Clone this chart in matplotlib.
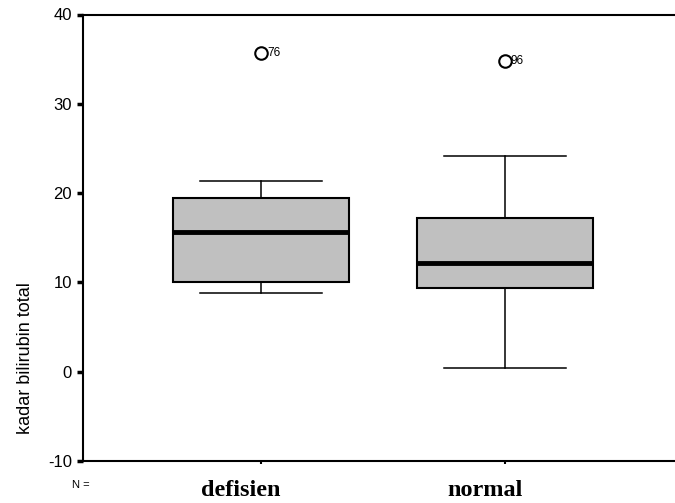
import matplotlib
matplotlib.use("Agg")
import matplotlib.pyplot as plt
from matplotlib.transforms import ScaledTranslation

# box summary values
groups = ["defisien", "normal"]
q1 = [10.08, 9.40]
med = [15.66, 12.17]
q3 = [19.45, 17.22]
whislo = [8.85, 0.45]
whishi = [21.35, 24.14]
outliers = [[35.7], [34.8]]
outlier_ids = [["76"], ["96"]]

yticks = [-10, 0, 10, 20, 30, 40]

fig = plt.figure(figsize=(6.75, 5.03), dpi=100)
ax = fig.add_axes([83 / 675, 42 / 503, 1 - 83 / 675, (461 - 14.5) / 503])

stats = []
for i, g in enumerate(groups):
    stats.append(dict(label=g, q1=q1[i], med=med[i], q3=q3[i],
                      whislo=whislo[i], whishi=whishi[i], fliers=outliers[i]))

ax.bxp(stats, positions=[1, 2], widths=0.72, capwidths=0.5,
       patch_artist=True,
       boxprops=dict(facecolor="#c0c0c0", edgecolor="black", linewidth=1.5),
       medianprops=dict(color="black", linewidth=3.5),
       whiskerprops=dict(color="black", linewidth=1.1),
       capprops=dict(color="black", linewidth=1.1),
       flierprops=dict(marker="o", markersize=9, markerfacecolor="none",
                       markeredgecolor="black", markeredgewidth=1.5))

# case numbers next to outliers
offs = [0.025, 0.02]
for i in range(len(groups)):
    for v, lab in zip(outliers[i], outlier_ids[i]):
        ax.text(i + 1 + offs[i], v, lab, fontsize=8.5, family="Liberation Sans",
                va="center", ha="left")

ax.set_xlim(0.272, 2.694)
ax.set_ylim(-10, 40)
ax.set_yticks(yticks)
ax.set_yticklabels([str(t) for t in yticks], family="Liberation Sans", fontsize=12)
ax.set_xticks([1, 2])
ax.set_xticklabels(groups, family="Liberation Serif", fontweight="bold", fontsize=17.5)
ax.tick_params(axis="y", length=4, width=2.5, pad=4)
ax.tick_params(axis="x", length=2, width=1.5, pad=12)

# category names sit a little left of the box centres
shift = ScaledTranslation(-0.2, 0, fig.dpi_scale_trans)
for lbl in ax.get_xticklabels():
    lbl.set_transform(lbl.get_transform() + shift)

ax.spines["right"].set_visible(False)
for s in ["left", "bottom", "top"]:
    ax.spines[s].set_linewidth(1.5)

ax.set_ylabel("kadar bilirubin total", family="Liberation Sans", fontsize=13)
ax.yaxis.set_label_coords(-0.083, 0.23)

fig.text(72 / 675, 1 - 485 / 503, "N =", family="Liberation Sans", fontsize=8,
         va="center", ha="left")

fig.savefig("out.png", dpi=100)
